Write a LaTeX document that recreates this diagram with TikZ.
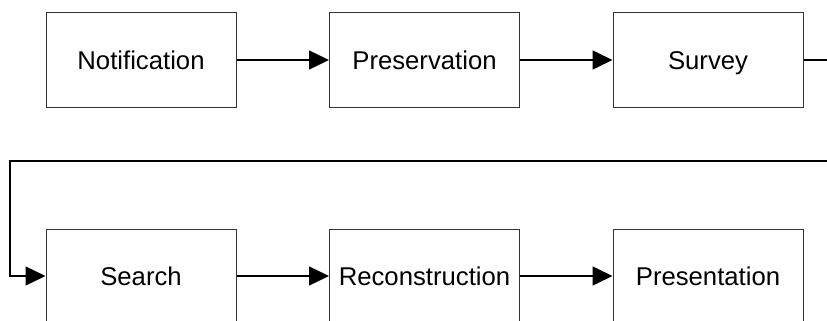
\documentclass[tikz,border=0pt]{standalone}
\usepackage{fontspec}
\setmainfont{Liberation Sans}
\usetikzlibrary{arrows.meta}
\begin{document}
\begin{tikzpicture}[x=1pt,y=-1pt,
  stagebox/.style={draw=black!80, line width=1pt, minimum width=190pt, minimum height=94pt, inner sep=0pt, text height=20pt, text depth=1.4pt, font=\fontsize{25.7}{30}\selectfont},
  flow/.style={line width=1.4pt, -{Triangle[length=20pt,width=19pt]}},
  plainline/.style={line width=1.4pt}]
\clip (0,0) rectangle (827,321);
\node[stagebox] (notif) at (141,60) {Notification};
\node[stagebox] (pres) at (424.5,60) {Preservation};
\node[stagebox] (survey) at (708,60) {Survey};
\node[stagebox] (search) at (141,276) {Search};
\node[stagebox] (recon) at (424.5,276) {Reconstruction};
\node[stagebox] (present) at (708,276) {Presentation};
\coordinate (outR) at (830,60);
\coordinate (inR) at (830,161);
\coordinate (turnL) at (10,161);
\draw[flow] (notif) -- (pres);
\draw[flow] (pres) -- (survey);
\draw[plainline] (survey) -- (outR);
\draw[flow] (inR) -- (turnL) |- (search.west);
\draw[flow] (search) -- (recon);
\draw[flow] (recon) -- (present);
\end{tikzpicture}
\end{document}
